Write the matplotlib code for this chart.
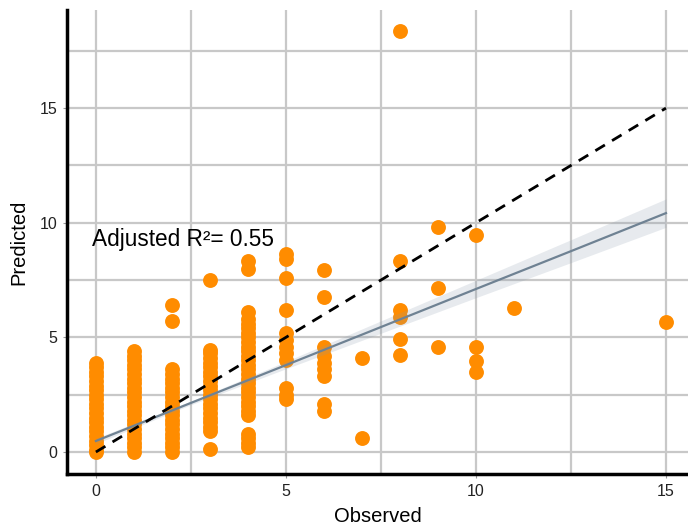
import matplotlib
matplotlib.use("Agg")
import matplotlib.pyplot as plt
import numpy as np

plt.rcParams['font.family'] = ['Liberation Sans', 'DejaVu Sans']

# predicted values, one list per observed count
pred_0 = [0.0, 0.1, 0.3, 0.5, 0.7, 0.9, 1.1, 1.3, 1.5, 1.7, 1.9, 2.1, 2.3, 2.5,
          2.7, 2.9, 3.1, 3.3, 3.5, 3.7, 3.9]
pred_1 = [0.0, 0.2, 0.4, 0.6, 0.8, 1.0, 1.2, 1.4, 1.6, 1.8, 2.0, 2.2, 2.4, 2.6,
          2.8, 3.0, 3.2, 3.4, 3.6, 3.8, 4.0, 4.2, 4.4]
pred_2 = [0.0, 0.2, 0.4, 0.6, 0.8, 1.0, 1.2, 1.4, 1.6, 1.8, 2.0, 2.2, 2.4, 2.6,
          2.8, 3.0, 3.2, 3.4, 3.6, 5.7, 6.4]
pred_3 = [0.15, 0.9, 1.1, 1.3, 1.5, 1.7, 1.9, 2.1, 2.3, 2.5, 2.7, 2.9, 3.1, 3.3,
          3.5, 3.7, 3.9, 4.1, 4.3, 4.45, 7.5]
pred_4 = [0.2, 0.4, 0.6, 0.8, 1.6, 1.8, 2.0, 2.2, 2.4, 2.6, 2.8, 3.0, 3.2, 3.4,
          3.6, 3.8, 4.0, 4.2, 4.4, 4.6, 4.8, 5.0, 5.2, 5.4, 5.6, 5.8, 6.1, 8.0, 8.35]
pred_5 = [2.3, 2.5, 2.8, 4.0, 4.3, 4.6, 4.9, 5.2, 6.2, 7.6, 8.4, 8.65]
pred_6 = [1.8, 2.1, 3.3, 3.6, 3.9, 4.2, 4.6, 6.75, 7.95]
pred_7 = [0.6, 4.1]
pred_8 = [4.25, 4.95, 5.9, 6.2, 8.35, 18.35]
pred_9 = [4.6, 7.15, 9.8]
pred_10 = [3.5, 3.95, 4.6, 9.45]
pred_11 = [6.3]
pred_15 = [5.65]

observed_groups = [0, 1, 2, 3, 4, 5, 6, 7, 8, 9, 10, 11, 15]
predicted_groups = [pred_0, pred_1, pred_2, pred_3, pred_4, pred_5, pred_6,
                    pred_7, pred_8, pred_9, pred_10, pred_11, pred_15]

# fitted regression line and its confidence band
fit_x = [0, 2.5, 5, 7.5, 10, 12.5, 15]
fit_y = [0.48, 2.14, 3.79, 5.45, 7.11, 8.76, 10.42]
fit_halfwidth = [0.12, 0.08, 0.16, 0.27, 0.38, 0.50, 0.62]

# identity reference line
ident_x = [0, 15]
ident_y = [0, 15]

r2_label = 'Adjusted R\u00b2= 0.55'

observed = []
predicted = []
for obs, preds in zip(observed_groups, predicted_groups):
    for p in preds:
        observed.append(obs)
        predicted.append(p)

fig = plt.figure(figsize=(6.88, 5.27), dpi=100)
ax = fig.add_axes([67 / 688, 53 / 527, 621 / 688, 464 / 527])

ax.scatter(observed, predicted, s=115, color='#ff8c00', linewidths=0, zorder=2)

lo = np.array(fit_y) - np.array(fit_halfwidth)
hi = np.array(fit_y) + np.array(fit_halfwidth)
ax.fill_between(fit_x, lo, hi, color='#8899aa', alpha=0.2, linewidth=0, zorder=3)
ax.plot(fit_x, fit_y, color='#6f8293', linewidth=1.6, zorder=4)
ax.plot(ident_x, ident_y, color='black', linestyle=(0, (4, 3)), linewidth=2, zorder=5)

ax.text(-0.1, 9.25, r2_label, fontsize=16.3, va='center', ha='left', zorder=6)

ax.set_xlim(-0.76, 15.58)
ax.set_ylim(-0.96, 19.28)
ax.set_xticks([0, 5, 10, 15])
ax.set_yticks([0, 5, 10, 15])
ax.set_xticks([2.5, 7.5, 12.5], minor=True)
ax.set_yticks([2.5, 7.5, 12.5, 17.5], minor=True)
ax.grid(True, which='both', color='#c8c8c8', linewidth=1.6)
ax.set_axisbelow(True)
ax.tick_params(which='major', length=3, color='#999999', labelsize=11.5,
               labelcolor='#222222', pad=4)
ax.tick_params(which='minor', length=0)

for side in ['top', 'right']:
    ax.spines[side].set_visible(False)
for side in ['left', 'bottom']:
    ax.spines[side].set_linewidth(2.5)
    ax.spines[side].set_color('black')

ax.set_xlabel('Observed', fontsize=14.5, labelpad=6)
ax.set_ylabel('Predicted', fontsize=14.5, labelpad=8)

fig.savefig('out.png', dpi=100)
